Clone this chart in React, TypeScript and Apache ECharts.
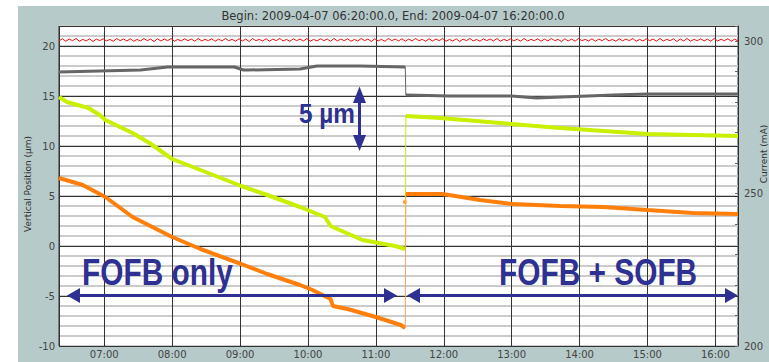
import React, { useEffect, useRef } from 'react';
import * as echarts from 'echarts';

// ---- time base -------------------------------------------------------------
const startTime = new Date(2009, 3, 7, 6, 20, 0).getTime();
const spanMinutes = 600;
const titleText = 'Begin: 2009-04-07 06:20:00.0, End: 2009-04-07 16:20:00.0';

// ---- axes ------------------------------------------------------------------
const positionTicks = [-10, -5, 0, 5, 10, 15, 20];
const currentTicks = [200, 250, 300];
const positionRange = [-10, 22];
const currentRange = [200, 305];

// ---- series (minutes after 06:20, value) ------------------------------------
const grayBefore: [number, number][] = [
  [0, 17.4], [36, 17.5], [72, 17.6], [96, 17.9], [155, 17.9], [163, 17.6],
  [167, 17.6], [213, 17.7], [228, 18.0], [266, 18.0], [306, 17.9],
];
const grayAfter: [number, number][] = [
  [306.5, 15.1], [345, 15.0], [400, 15.0], [422, 14.8], [490, 15.1], [520, 15.2], [600, 15.2],
];
const yellowBefore: [number, number][] = [
  [0, 14.9], [7, 14.4], [26, 13.8], [36, 13.1], [41, 12.6], [65, 11.3], [80, 10.3],
  [100, 8.7], [125, 7.6], [161, 6.0], [184, 5.1], [213, 3.9], [235, 2.9], [240, 2.0],
  [268, 0.6], [297, 0.0], [306, -0.3],
];
const yellowAfter: [number, number][] = [
  [306.5, 13.0], [337, 12.8], [390, 12.3], [443, 11.8], [520, 11.2], [600, 11.0],
];
const orangeBefore: [number, number][] = [
  [0, 6.8], [21, 6.1], [41, 4.9], [65, 2.9], [100, 0.9], [125, -0.3], [161, -1.8],
  [184, -2.8], [213, -3.9], [224, -4.4], [240, -5.3], [242, -6.0], [255, -6.3],
  [280, -7.1], [302, -7.9], [306, -8.2],
];
const orangeAfter: [number, number][] = [
  [306.5, 5.2], [339, 5.2], [372, 4.6], [401, 4.2], [443, 4.0], [481, 3.9],
  [520, 3.6], [560, 3.3], [600, 3.2],
];
const orangeStray: [number, number][] = [[305.6, 4.4]];

// beam current (mA), one reading every 3 minutes
const currentStep = 3;
const currentMA = [
  300.1, 300.8, 300.0, 300.7, 300.2, 300.9, 300.0, 300.6, 300.1, 300.8,
  299.9, 300.7, 300.2, 300.8, 300.1, 300.6, 300.0, 300.9, 300.2, 300.7,
  300.1, 300.8, 300.0, 300.6, 300.1, 300.9, 300.2, 300.7, 299.9, 300.8,
  300.1, 300.7, 300.2, 300.9, 300.0, 300.6, 300.1, 300.8, 300.2, 300.7,
  300.0, 300.9, 300.1, 300.6, 300.2, 300.8, 300.0, 300.7, 300.1, 300.9,
  300.2, 300.6, 300.0, 300.8, 300.1, 300.7, 299.9, 300.9, 300.2, 300.6,
  300.1, 300.8, 300.0, 300.7, 300.2, 300.9, 300.1, 300.6, 300.0, 300.8,
  300.2, 300.7, 300.1, 300.9, 300.0, 300.6, 300.1, 300.8, 300.2, 300.7,
  300.0, 300.9, 300.1, 300.7, 300.2, 300.8, 300.0, 300.6, 300.1, 300.9,
  300.2, 300.7, 299.9, 300.8, 300.1, 300.6, 300.0, 300.9, 300.2, 300.7,
  300.1, 300.8, 300.0, 300.7, 300.1, 300.9, 300.2, 300.6, 300.0, 300.8,
  300.1, 300.7, 300.2, 300.9, 300.0, 300.6, 300.1, 300.8, 299.9, 300.7,
  300.2, 300.9, 300.1, 300.6, 300.0, 300.8, 300.2, 300.7, 300.1, 300.9,
  300.0, 300.6, 300.2, 300.8, 300.1, 300.7, 300.0, 300.9, 300.1, 300.6,
  300.2, 300.8, 300.0, 300.7, 300.1, 300.9, 300.2, 300.6, 299.9, 300.8,
  300.1, 300.7, 300.0, 300.9, 300.2, 300.6, 300.1, 300.8, 300.0, 300.7,
  300.2, 300.9, 300.1, 300.6, 300.0, 300.8, 300.1, 300.7, 300.2, 300.9,
  300.0, 300.6, 300.1, 300.8, 300.2, 300.7, 300.0, 300.9, 300.1, 300.6,
  300.2, 300.8, 299.9, 300.7, 300.1, 300.9, 300.0, 300.6, 300.2, 300.8,
  300.1, 300.7, 300.0, 300.9, 300.1, 300.6, 300.2, 300.8, 300.0, 300.7,
  300.1,
];

// ---- annotation texts ------------------------------------------------------
const labelLeft = 'FOFB only';
const labelRight = 'FOFB + SOFB';
const labelScale = '5 µm';
const yAxisNameLeft = 'Vertical Position (µm)';
const yAxisNameRight = 'Current (mA)';

// ---- styles ----------------------------------------------------------------
const C_YELLOW = '#c8f000';
const C_ORANGE = '#ff7f0a';
const C_GRAY = '#666666';
const C_RED = '#e81010';
const C_BLUE = '#2e3192';
const FONT = 'DejaVu Sans';
const BIG = 'Liberation Sans';

const toTime = (m: number) => startTime + m * 60000;
const conv = (pts: [number, number][]) => pts.map(([m, v]) => [toTime(m), v]);
const pad = (n: number) => (n < 10 ? '0' : '') + n;

export default function App() {
  const ref = useRef<HTMLDivElement>(null);

  useEffect(() => {
    if (!ref.current) return;
    const chart = echarts.init(ref.current, undefined, { renderer: 'svg' });

    const lineBase = {
      type: 'line',
      showSymbol: false,
      symbol: 'none',
      xAxisIndex: 0,
      yAxisIndex: 1,
      animation: false,
      silent: true,
    };
    const connector = (a: [number, number][], b: [number, number][]) =>
      conv([a[a.length - 1], b[0]]);

    const currentData = currentMA.map((v, i) => [toTime(i * currentStep), v]);

    const arrowHead = (pts: number[][]) => ({
      type: 'polygon',
      z: 100,
      shape: { points: pts },
      style: { fill: C_BLUE },
    });
    const bar = (x: number, y: number, w: number, h: number) => ({
      type: 'rect',
      z: 100,
      shape: { x, y, width: w, height: h },
      style: { fill: C_BLUE },
    });

    chart.setOption({
      animation: false,
      backgroundColor: 'transparent',
      grid: {
        left: 59,
        right: 31,
        top: 26,
        bottom: 16,
        show: true,
        backgroundColor: '#ffffff',
        borderColor: '#333333',
        borderWidth: 1,
        containLabel: false,
        outerBoundsMode: 'none',
      },
      xAxis: {
        type: 'time',
        min: toTime(0),
        max: toTime(spanMinutes),
        minInterval: 3600 * 1000,
        maxInterval: 3600 * 1000,
        axisLine: { show: false },
        axisTick: { show: false },
        axisLabel: {
          fontFamily: FONT,
          fontSize: 10,
          color: '#444',
          margin: 3,
          hideOverlap: false,
          formatter: (v: number) => {
            const d = new Date(v);
            return d.getMinutes() === 0 ? pad(d.getHours()) + ':' + pad(d.getMinutes()) : '';
          },
        },
        splitLine: { show: true, lineStyle: { color: '#333', width: 1 } },
      },
      yAxis: [
        {
          type: 'value',
          min: positionRange[0],
          max: positionRange[1],
          interval: 1,
          position: 'left',
          axisLine: { show: false },
          axisTick: { show: false },
          axisLabel: { show: false },
          splitLine: { show: true, lineStyle: { color: '#cbcbcb', width: 2 } },
        },
        {
          type: 'value',
          min: positionRange[0],
          max: positionRange[1],
          interval: 5,
          position: 'left',
          axisLine: { show: false },
          axisTick: { show: false },
          axisLabel: {
            fontFamily: FONT,
            fontSize: 10,
            color: '#444',
            margin: 4,
            formatter: (v: number) => (positionTicks.includes(v) ? String(v) : ''),
          },
          splitLine: { show: true, lineStyle: { color: '#333', width: 1 } },
        },
        {
          type: 'value',
          min: currentRange[0],
          max: currentRange[1],
          interval: 10,
          position: 'right',
          axisLine: { show: true, lineStyle: { color: '#333', width: 1 } },
          axisTick: { show: true, inside: true, length: 3, lineStyle: { color: '#666' } },
          axisLabel: {
            fontFamily: FONT,
            fontSize: 10,
            color: '#444',
            margin: 6,
            formatter: (v: number) => (currentTicks.includes(v) ? String(v) : ''),
          },
          splitLine: { show: false },
        },
      ],
      series: [
        { ...lineBase, yAxisIndex: 2, data: currentData, lineStyle: { color: C_RED, width: 1 } },
        { ...lineBase, data: conv(grayBefore), lineStyle: { color: C_GRAY, width: 3 } },
        { ...lineBase, data: connector(grayBefore, grayAfter), lineStyle: { color: C_GRAY, width: 1 } },
        { ...lineBase, data: conv(grayAfter), lineStyle: { color: C_GRAY, width: 3 } },
        { ...lineBase, data: conv(yellowBefore), lineStyle: { color: C_YELLOW, width: 4 } },
        { ...lineBase, data: connector(yellowBefore, yellowAfter), lineStyle: { color: C_YELLOW, width: 1 } },
        { ...lineBase, data: conv(yellowAfter), lineStyle: { color: C_YELLOW, width: 4 } },
        { ...lineBase, data: conv(orangeBefore), lineStyle: { color: C_ORANGE, width: 4 } },
        { ...lineBase, data: connector(orangeBefore, orangeAfter), lineStyle: { color: '#ffa060', width: 1 } },
        { ...lineBase, data: conv(orangeAfter), lineStyle: { color: C_ORANGE, width: 4 } },
        {
          type: 'scatter',
          xAxisIndex: 0,
          yAxisIndex: 1,
          data: conv(orangeStray),
          symbolSize: 4,
          itemStyle: { color: C_ORANGE },
          silent: true,
        },
      ],
      graphic: [
        {
          type: 'text',
          x: 393,
          y: 16,
          style: {
            text: titleText,
            fontFamily: FONT,
            fontSize: 11.5,
            fill: '#333',
            textAlign: 'center',
            textVerticalAlign: 'middle',
          },
        },
        {
          type: 'text',
          x: 27.5,
          y: 184,
          rotation: Math.PI / 2,
          style: {
            text: yAxisNameLeft,
            fontFamily: FONT,
            fontSize: 9,
            fill: '#333',
            textAlign: 'center',
            textVerticalAlign: 'middle',
          },
        },
        {
          type: 'text',
          x: 763.5,
          y: 154,
          rotation: Math.PI / 2,
          style: {
            text: yAxisNameRight,
            fontFamily: FONT,
            fontSize: 9,
            fill: '#333',
            textAlign: 'center',
            textVerticalAlign: 'middle',
          },
        },
        // horizontal arrow: FOFB only
        arrowHead([[67, 295.5], [80, 288], [80, 303]]),
        bar(79, 294, 306, 3),
        arrowHead([[397, 295.5], [384, 288], [384, 303]]),
        // horizontal arrow: FOFB + SOFB
        arrowHead([[407, 295.5], [420, 288], [420, 303]]),
        bar(419, 294, 307, 3),
        arrowHead([[738, 295.5], [725, 288], [725, 303]]),
        // vertical 5 µm arrow
        arrowHead([[359.5, 86.5], [353, 103], [366, 103]]),
        bar(358, 101, 3, 36),
        arrowHead([[359.5, 151], [353, 135], [366, 135]]),
        {
          type: 'text',
          z: 100,
          x: 299,
          y: 113,
          scaleX: 0.87,
          style: {
            text: labelScale,
            fontFamily: BIG,
            fontWeight: 'bold',
            fontSize: 28,
            fill: C_BLUE,
            textAlign: 'left',
            textVerticalAlign: 'middle',
          },
        },
        {
          type: 'text',
          z: 100,
          x: 82,
          y: 272,
          scaleX: 0.807,
          style: {
            text: labelLeft,
            fontFamily: BIG,
            fontWeight: 'bold',
            fontSize: 37,
            fill: C_BLUE,
            textAlign: 'left',
            textVerticalAlign: 'middle',
          },
        },
        {
          type: 'text',
          z: 100,
          x: 499,
          y: 272,
          scaleX: 0.807,
          style: {
            text: labelRight,
            fontFamily: BIG,
            fontWeight: 'bold',
            fontSize: 37,
            fill: C_BLUE,
            textAlign: 'left',
            textVerticalAlign: 'middle',
          },
        },
      ],
    });

    return () => chart.dispose();
  }, []);

  return (
    <div style={{ position: 'absolute', left: 0, top: 0, width: 769, height: 362, background: '#ffffff', overflow: 'hidden' }}>
      <div style={{ position: 'absolute', left: 18, top: 6, width: 751, height: 356, background: '#b6cac9' }} />
      <div ref={ref} style={{ position: 'absolute', left: 0, top: 0, width: 769, height: 362 }} />
    </div>
  );
}
